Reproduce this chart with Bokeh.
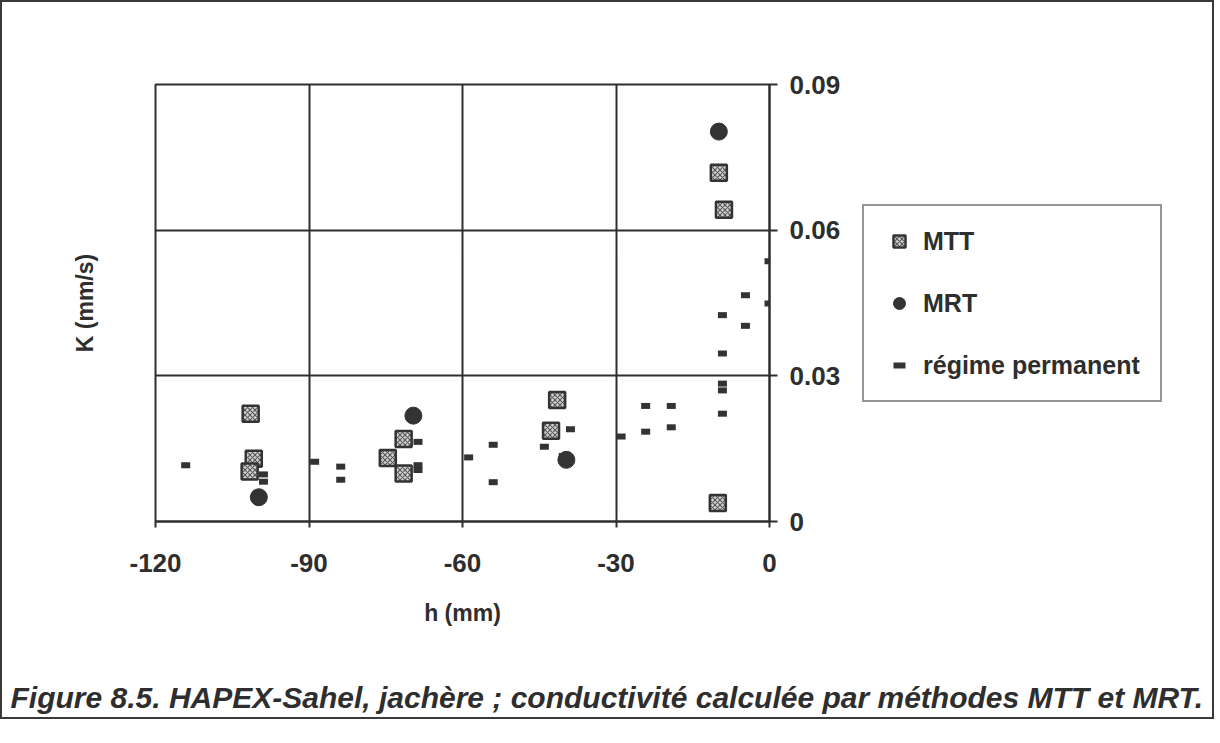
from bokeh.plotting import figure
from bokeh.models import (Range1d, FixedTicker, LinearAxis, Legend, LegendItem, Label)
from bokeh.layouts import column, row
from bokeh.embed import file_html
from bokeh.resources import INLINE

# ---- data ----
mtt_h = [-101.4, -100.8, -101.6, -71.5, -74.6, -71.5, -41.5, -42.7, -10.1, -9.9, -8.9]
mtt_k = [0.0222, 0.0129, 0.0103, 0.0170, 0.0131, 0.0099, 0.0250, 0.0187, 0.0038, 0.0718, 0.0642]

mrt_h = [-99.8, -69.6, -39.7, -9.9]
mrt_k = [0.0050, 0.0218, 0.0127, 0.0803]

reg_h = [-114.1, -98.9, -98.9, -88.9, -83.8, -83.8, -68.7, -68.7, -68.7, -58.8,
         -54.0, -54.0, -44.0, -38.9, -40.3, -29.0, -24.2, -24.2, -19.2, -19.2,
         -9.2, -9.2, -9.2, -9.2, -9.2, -4.7, -4.7, -0.1, -0.1]
reg_k = [0.0116, 0.0097, 0.0082, 0.0123, 0.0113, 0.0086, 0.0164, 0.0116, 0.0106, 0.0132,
         0.0158, 0.0081, 0.0154, 0.0190, 0.0135, 0.0175, 0.0238, 0.0185, 0.0238, 0.0194,
         0.0284, 0.0270, 0.0222, 0.0346, 0.0425, 0.0466, 0.0403, 0.0536, 0.0449]

x_ticks = [-120, -90, -60, -30, 0]
x_tick_labels = {-120: "-120", -90: "-90", -60: "-60", -30: "-30", 0: "0"}
y_ticks = [0, 0.03, 0.06, 0.09]
y_tick_labels = {0: "0", 0.03: "0.03", 0.06: "0.06", 0.09: "0.09"}

x_label = "h (mm)"
y_label = "K (mm/s)"
series_names = ["MTT", "MRT", "régime permanent"]
caption = "Figure 8.5. HAPEX-Sahel, jachère ; conductivité calculée par méthodes MTT et MRT."

INK = "#2e2e2e"
FONT = "Liberation Sans"

MTT_STYLE = dict(marker="square", fill_color="#d4d4d4", line_color="#333333", line_width=2.5,
                 hatch_pattern="x", hatch_color="#5a5a5a", hatch_scale=5, hatch_weight=1.2)
MRT_STYLE = dict(marker="circle", fill_color="#333333", line_color="#333333", line_width=1)
REG_STYLE = dict(marker="dash", line_color="#333333", line_width=6)

# ---------------- main plot ----------------
p = figure(width=845, height=640, output_backend="svg", toolbar_location=None,
           x_range=Range1d(-120, 0), y_range=Range1d(0, 0.09),
           x_axis_location="below", y_axis_location="right",
           min_border_left=153, min_border_top=82, min_border_right=78, min_border_bottom=121)

p.outline_line_color = INK
p.outline_line_width = 2
p.background_fill_color = "white"
p.border_fill_color = "white"

p.xgrid.ticker = FixedTicker(ticks=x_ticks)
p.ygrid.ticker = FixedTicker(ticks=y_ticks)
for g in (p.xgrid, p.ygrid):
    g.grid_line_color = INK
    g.grid_line_width = 2
    g.grid_line_alpha = 1.0

xa = p.xaxis[0]
xa.ticker = FixedTicker(ticks=x_ticks)
xa.major_label_overrides = x_tick_labels
xa.axis_line_color = INK
xa.axis_line_width = 2
xa.major_tick_line_color = INK
xa.major_tick_line_width = 2
xa.major_tick_out = 6
xa.major_tick_in = 0
xa.minor_tick_line_color = None
xa.major_label_standoff = 26
xa.major_label_text_font = FONT
xa.major_label_text_font_style = "bold"
xa.major_label_text_font_size = "26px"
xa.major_label_text_color = INK
xa.axis_label = x_label
xa.axis_label_text_font = FONT
xa.axis_label_text_font_style = "bold"
xa.axis_label_text_font_size = "23px"
xa.axis_label_text_color = INK
xa.axis_label_standoff = 25

ya = p.yaxis[0]
ya.ticker = FixedTicker(ticks=y_ticks)
ya.major_label_overrides = y_tick_labels
ya.axis_line_color = INK
ya.axis_line_width = 2
ya.major_tick_line_color = INK
ya.major_tick_line_width = 2
ya.major_tick_out = 8
ya.major_tick_in = 0
ya.minor_tick_line_color = None
ya.major_label_standoff = 12
ya.major_label_text_font = FONT
ya.major_label_text_font_style = "bold"
ya.major_label_text_font_size = "26px"
ya.major_label_text_color = INK

la = LinearAxis(ticker=FixedTicker(ticks=[]), axis_line_color=None,
                major_tick_line_color=None, minor_tick_line_color=None,
                major_label_text_font_size="0px")
la.axis_label = y_label
la.axis_label_text_font = FONT
la.axis_label_text_font_style = "bold"
la.axis_label_text_font_size = "23px"
la.axis_label_text_color = INK
la.axis_label_standoff = 58
p.add_layout(la, "left")

p.scatter(mtt_h, mtt_k, size=16, **MTT_STYLE)
p.scatter(mrt_h, mrt_k, size=17, **MRT_STYLE)
p.scatter(reg_h, reg_k, size=9, **REG_STYLE)

# ---------------- legend panel (frame aligned with the main plot) ----------------
pl = figure(width=365, height=640, output_backend="svg", toolbar_location=None,
            x_range=Range1d(-120, 0), y_range=Range1d(0, 0.09),
            x_axis_location=None, y_axis_location=None,
            min_border_left=0, min_border_right=0, min_border_top=82, min_border_bottom=121)
pl.grid.visible = False
pl.outline_line_color = None
pl.border_fill_color = "white"
pl.background_fill_color = "white"
l_mtt = pl.scatter(mtt_h, mtt_k, size=16, visible=False, **MTT_STYLE)
l_mrt = pl.scatter(mrt_h, mrt_k, size=17, visible=False, **MRT_STYLE)
l_reg = pl.scatter(reg_h, reg_k, size=9, visible=False, **REG_STYLE)

legend = Legend(items=[LegendItem(label=series_names[0], renderers=[l_mtt]),
                       LegendItem(label=series_names[1], renderers=[l_mrt]),
                       LegendItem(label=series_names[2], renderers=[l_reg])],
                location=(15, 119), orientation="vertical",
                padding=20, spacing=32, margin=0,
                glyph_width=30, glyph_height=30, label_height=30, label_standoff=9,
                label_text_font=FONT, label_text_font_style="bold",
                label_text_font_size="25px", label_text_color=INK,
                border_line_color=INK, border_line_width=2,
                inactive_fill_alpha=0.0,
                background_fill_color="white", background_fill_alpha=1.0)
pl.add_layout(legend, "center")

# ---------------- caption ----------------
pc = figure(width=1210, height=75, output_backend="svg", toolbar_location=None,
            x_range=Range1d(0, 1), y_range=Range1d(0, 1),
            x_axis_location=None, y_axis_location=None,
            min_border_left=0, min_border_right=0, min_border_top=0, min_border_bottom=0)
pc.grid.visible = False
pc.outline_line_color = None
pc.border_fill_color = "white"
pc.add_layout(Label(x=8, y=20, x_units="screen", y_units="screen", text=caption,
                    text_font=FONT, text_font_style="bold italic", text_font_size="30px",
                    text_color=INK, text_baseline="alphabetic", text_align="left"))

lay = column(row(p, pl), pc, styles={"border": "2px solid #3a3a3a"})

open("out.html", "w").write(file_html(lay, INLINE))
